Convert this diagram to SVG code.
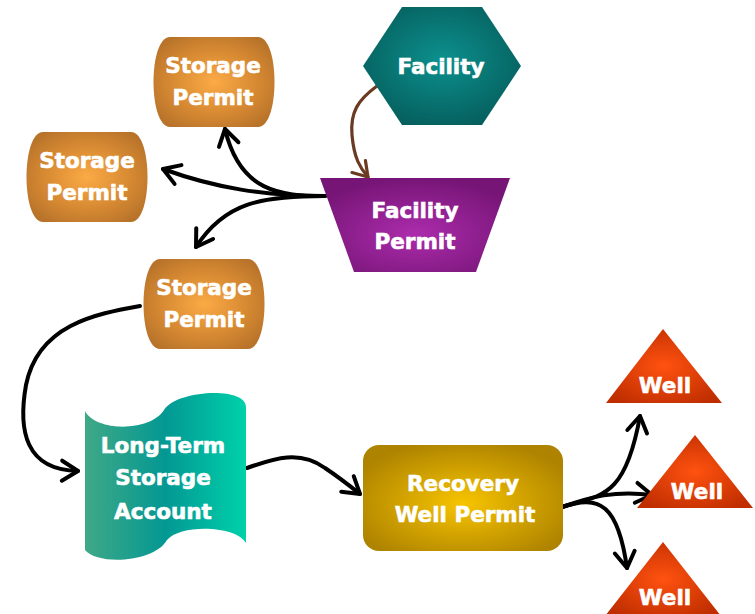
<svg xmlns="http://www.w3.org/2000/svg" width="755" height="614" viewBox="0 0 755 614">
<style>
  text { font-family: "DejaVu Sans", Verdana, sans-serif; font-weight: bold; font-size: 21.5px; fill: #ffffff; stroke: #ffffff; stroke-width: 0.6; text-anchor: middle; }
  .sp { fill: url(#storageGrad); }
  .conn { fill: none; stroke: #000000; stroke-width: 4; stroke-linecap: round; marker-end: url(#arrowBlack); }
  .connBrown { fill: none; stroke: #6B3A22; stroke-width: 3.2; stroke-linecap: round; marker-end: url(#arrowBrown); }
  .well { fill: url(#wellGrad); }
</style>
<defs>
  <radialGradient id="storageGrad" cx="50%" cy="50%" r="60%">
    <stop offset="0" stop-color="#FBAA45"/>
    <stop offset="0.6" stop-color="#D68932"/>
    <stop offset="1" stop-color="#B8732A"/>
  </radialGradient>
  <radialGradient id="facilityGrad" cx="50%" cy="45%" r="60%">
    <stop offset="0" stop-color="#0C908E"/>
    <stop offset="1" stop-color="#055E5C"/>
  </radialGradient>
  <radialGradient id="permitGrad" cx="50%" cy="60%" r="60%">
    <stop offset="0" stop-color="#AC2CAC"/>
    <stop offset="1" stop-color="#771577"/>
  </radialGradient>
  <radialGradient id="recoveryGrad" cx="50%" cy="55%" r="60%">
    <stop offset="0" stop-color="#F7C400"/>
    <stop offset="1" stop-color="#AE8300"/>
  </radialGradient>
  <radialGradient id="wellGrad" cx="50%" cy="50%" r="60%">
    <stop offset="0" stop-color="#FF5210"/>
    <stop offset="1" stop-color="#C02E00"/>
  </radialGradient>
  <linearGradient id="ltsGrad" x1="0" y1="0" x2="1" y2="0">
    <stop offset="0" stop-color="#40A886"/>
    <stop offset="0.5" stop-color="#039893"/>
    <stop offset="1" stop-color="#00D1AB"/>
  </linearGradient>
  <marker id="arrowBlack" markerUnits="userSpaceOnUse" markerWidth="24" markerHeight="24" viewBox="0 0 24 24" refX="20" refY="12" orient="auto" overflow="visible">
    <path d="M4,2 L20,12 L4,22" fill="none" stroke="#000000" stroke-width="4" stroke-linecap="round" stroke-linejoin="round"/>
  </marker>
  <marker id="arrowBrown" markerUnits="userSpaceOnUse" markerWidth="24" markerHeight="24" viewBox="0 0 24 24" refX="20" refY="12" orient="auto" overflow="visible">
    <path d="M6,3 L20,12 L6,21" fill="none" stroke="#6B3A22" stroke-width="3.2" stroke-linecap="round" stroke-linejoin="round"/>
  </marker>
</defs>

<g id="connectors">
  <path class="connBrown" d="M377,86 C358,100 350,112 352,135 C354,158 360,168 368,177"/>
  <path class="conn" d="M325,196 C280,196 240,192 225,129"/>
  <path class="conn" d="M325,196 C265,196 215,188 163,169"/>
  <path class="conn" d="M325,196 C262,196 225,202 196,247"/>
  <path class="conn" d="M140,306 C95,314 38,325 26,385 C18,430 25,470 78,471"/>
  <path class="conn" d="M247,468 C275,458 300,450 325,468 C340,478 350,486 360,494"/>
  <path class="conn" d="M562,507 C600,495 625,500 640,416"/>
  <path class="conn" d="M562,507 C590,497 615,490 652,495"/>
  <path class="conn" d="M562,507 C600,494 618,505 627,568"/>
</g>

<g id="facility">
  <polygon points="363,66 402,7 482,7 521,66 482,125 402,125" fill="url(#facilityGrad)"/>
  <text x="441" y="74">Facility</text>
</g>

<g id="facility-permit">
  <polygon points="320,178 510,178 476,272 354,272" fill="url(#permitGrad)"/>
  <text x="415" y="218">Facility</text>
  <text x="415" y="249">Permit</text>
</g>

<g id="storage-permit-1">
  <path class="sp" d="M170,37 H258 C280,37 280,127 258,127 H170 C148,127 148,37 170,37 Z"/>
  <text x="213" y="73">Storage</text>
  <text x="213" y="105">Permit</text>
</g>

<g id="storage-permit-2">
  <path class="sp" d="M43,132 H131 C153,132 153,222 131,222 H43 C21,222 21,132 43,132 Z"/>
  <text x="87" y="168">Storage</text>
  <text x="87" y="200">Permit</text>
</g>

<g id="storage-permit-3">
  <path class="sp" d="M160,259 H248 C270,259 270,349 248,349 H160 C138,349 138,259 160,259 Z"/>
  <text x="204" y="295">Storage</text>
  <text x="204" y="327">Permit</text>
</g>

<g id="long-term-storage-account">
  <path d="M85,411 C96,432 150,432 164,410 C176,390 246,386 246,407 L246,543 C236,525 180,524 167,540 C155,562 98,566 85,550 Z" fill="url(#ltsGrad)"/>
  <text x="163" y="453">Long-Term</text>
  <text x="163" y="485">Storage</text>
  <text x="163" y="519">Account</text>
</g>

<g id="recovery-well-permit">
  <rect x="363" y="445" width="200" height="106" rx="16" ry="16" fill="url(#recoveryGrad)"/>
  <text x="463" y="491">Recovery</text>
  <text x="465" y="522">Well Permit</text>
</g>

<g id="well-1">
  <polygon class="well" points="663,329 722,403 606,403"/>
  <text x="665" y="393">Well</text>
</g>

<g id="well-2">
  <polygon class="well" points="695,435 753,508 637,508"/>
  <text x="697" y="499">Well</text>
</g>

<g id="well-3">
  <polygon class="well" points="663,542 721,616 605,616"/>
  <text x="665" y="605">Well</text>
</g>
</svg>
